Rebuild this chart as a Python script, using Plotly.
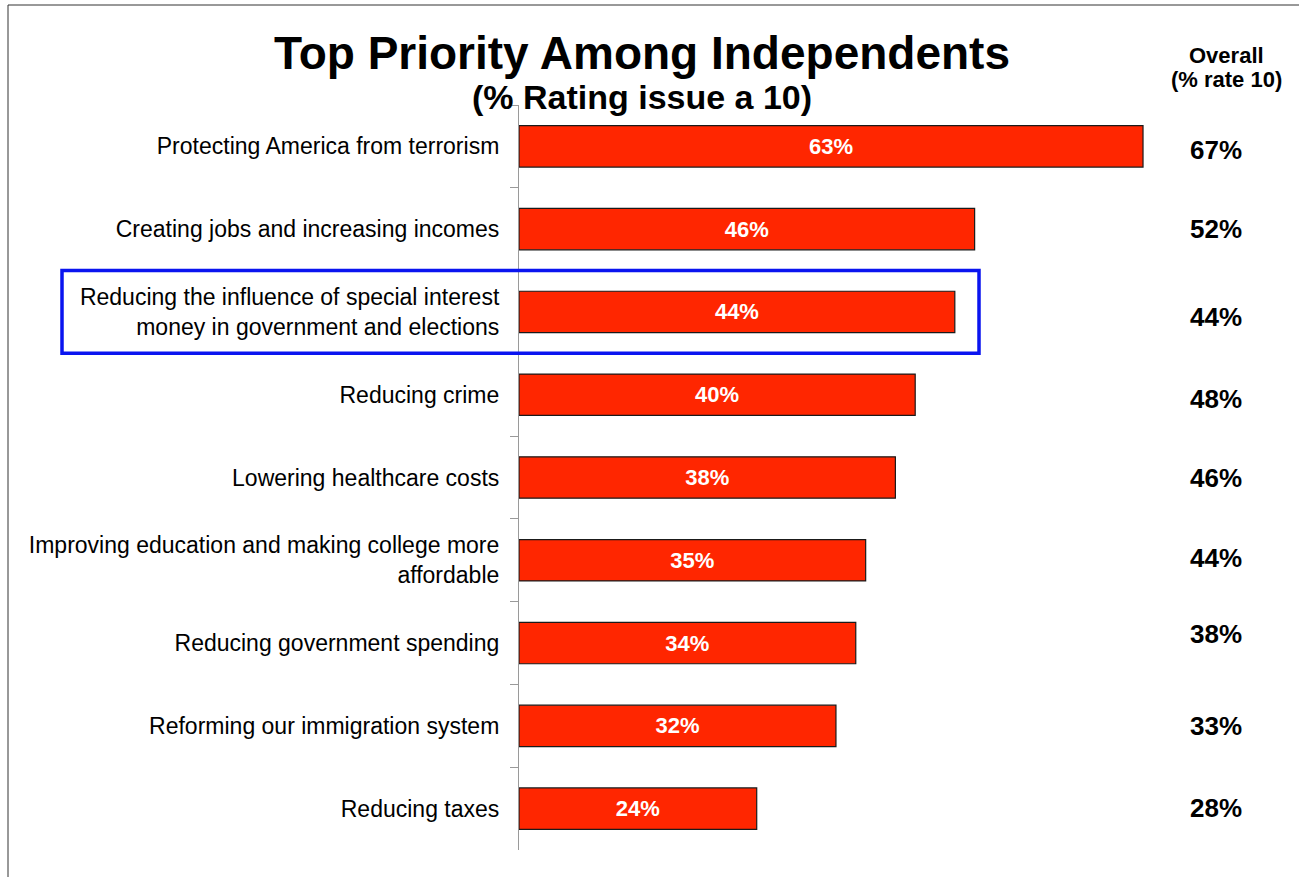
import plotly.graph_objects as go

categories = [
    "Protecting America from terrorism",
    "Creating jobs and increasing incomes",
    "Reducing the influence of special interest<br>money in government and elections",
    "Reducing crime",
    "Lowering healthcare costs",
    "Improving education and making college more<br>affordable",
    "Reducing government spending",
    "Reforming our immigration system",
    "Reducing taxes",
]
independents = [63, 46, 44, 40, 38, 35, 34, 32, 24]
overall = [67, 52, 44, 48, 46, 44, 38, 33, 28]
overall_shift = [-4, 0, -5, -4, 0, 2, 9, 0, 1]
highlight_index = 2

W, H = 1299, 877
ml, mr, mt, mb = 519, 100, 105, 27
plot_w = W - ml - mr
plot_h = H - mt - mb
px_per_unit = 9.905
xmax = plot_w / px_per_unit

FONT = "Liberation Sans, Arial, sans-serif"


def px_x(px):
    return (px - ml) / plot_w


def px_y(py):
    return 1 + (mt - py) / plot_h


fig = go.Figure()
fig.add_trace(go.Bar(
    y=categories,
    x=independents,
    orientation="h",
    width=0.5,
    marker=dict(color="#FF2600", line=dict(color="#1a1a1a", width=1.2)),
    text=[f"<b>{v}%</b>" for v in independents],
    textposition="inside",
    insidetextanchor="middle",
    textangle=0,
    textfont=dict(color="white", size=22, family=FONT),
    hoverinfo="skip",
))

annotations = []
for i, (cat, v) in enumerate(zip(categories, overall)):
    annotations.append(dict(
        x=px_x(1216), xref="paper", y=cat, yref="y",
        text=f"<b>{v}%</b>", showarrow=False, yshift=overall_shift[i],
        font=dict(size=26, color="black", family=FONT),
        xanchor="center", yanchor="middle",
    ))

annotations += [
    dict(x=px_x(642), xref="paper", y=px_y(53), yref="paper",
         text="<b>Top Priority Among Independents</b>", showarrow=False,
         font=dict(size=46, color="black", family=FONT), xanchor="center", yanchor="middle"),
    dict(x=px_x(642), xref="paper", y=px_y(97), yref="paper",
         text="<b>(% Rating issue a 10)</b>", showarrow=False,
         font=dict(size=34, color="black", family=FONT), xanchor="center", yanchor="middle"),
    dict(x=px_x(1226), xref="paper", y=px_y(55), yref="paper",
         text="<b>Overall</b>", showarrow=False,
         font=dict(size=22, color="black", family=FONT), xanchor="center", yanchor="middle"),
    dict(x=px_x(1226), xref="paper", y=px_y(80), yref="paper",
         text="<b>(% rate 10)</b>", showarrow=False,
         font=dict(size=22, color="black", family=FONT), xanchor="center", yanchor="middle"),
]

shapes = [
    # highlight box
    dict(type="rect", xref="paper", yref="y",
         x0=px_x(62), x1=px_x(979),
         y0=highlight_index - 0.5, y1=highlight_index + 0.5,
         line=dict(color="#0A14F0", width=3.5), fillcolor="rgba(0,0,0,0)", layer="above"),
    # frame lines
    dict(type="line", xref="paper", yref="paper",
         x0=px_x(8), x1=px_x(1299), y0=px_y(5), y1=px_y(5),
         line=dict(color="#333333", width=1)),
    dict(type="line", xref="paper", yref="paper",
         x0=px_x(8), x1=px_x(8), y0=px_y(5), y1=px_y(880),
         line=dict(color="#333333", width=1)),
]

fig.update_layout(
    width=W, height=H,
    margin=dict(l=ml, r=mr, t=mt, b=mb, pad=0),
    paper_bgcolor="white", plot_bgcolor="white",
    showlegend=False,
    bargap=0.5,
    xaxis=dict(range=[0, xmax], visible=False, fixedrange=True),
    yaxis=dict(
        type="category", autorange="reversed",
        showline=True, linecolor="#9a9a9a", linewidth=1.2,
        ticks="outside", tickson="boundaries", ticklen=8, tickcolor="#9a9a9a", tickwidth=1.2,
        tickfont=dict(size=23, color="black", family=FONT),
        ticklabelstandoff=14,
        showgrid=False, zeroline=False, fixedrange=True,
    ),
    annotations=annotations,
    shapes=shapes,
    font=dict(family=FONT),
)

fig.write_html("out.html", config={"displayModeBar": False},
               post_script="document.body.style.margin='0px';document.body.style.padding='0px';")
